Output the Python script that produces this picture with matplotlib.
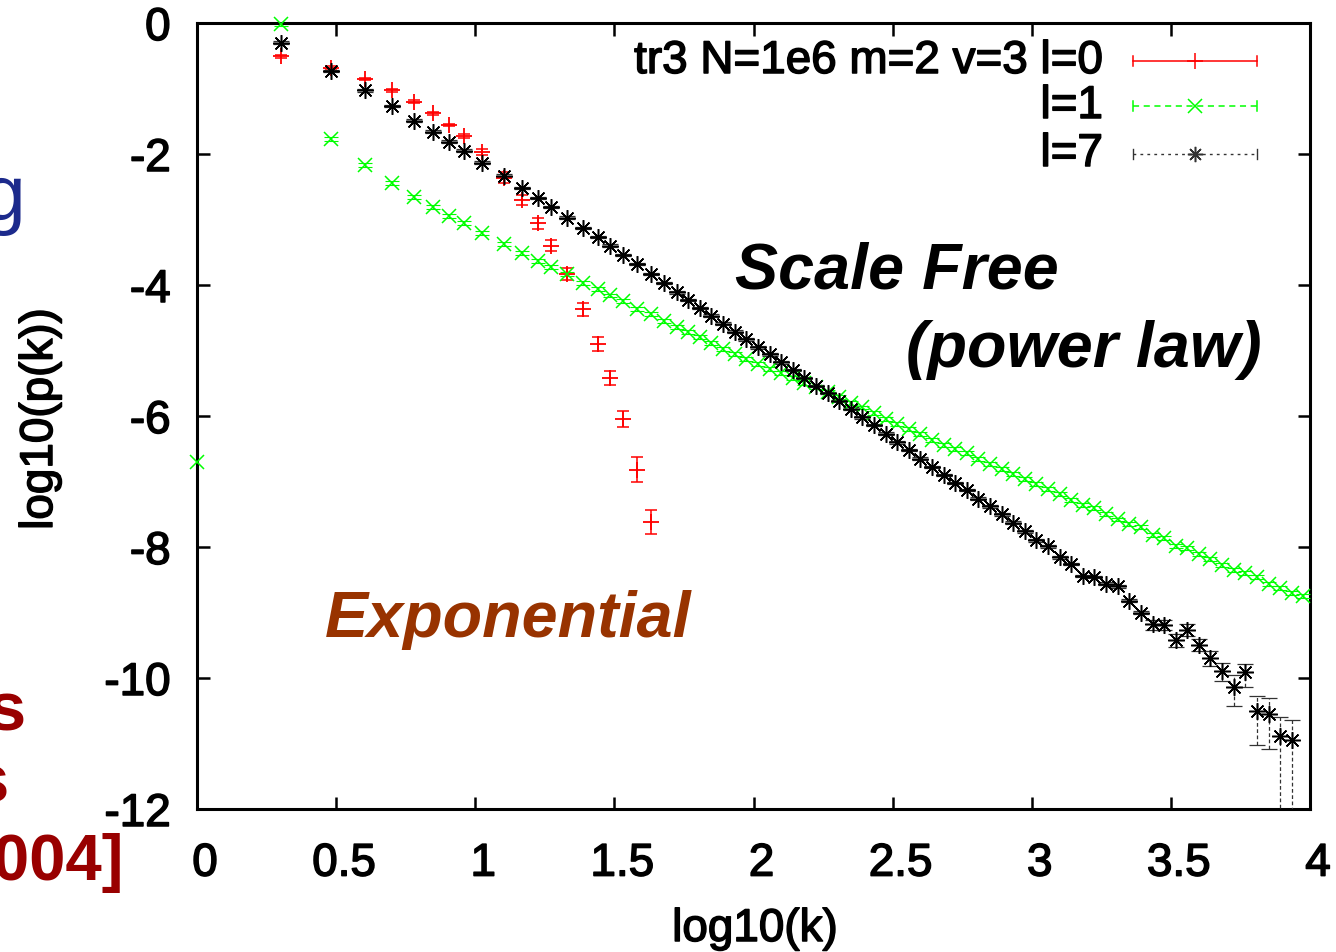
import matplotlib
matplotlib.use("Agg")
import matplotlib.pyplot as plt
import matplotlib.transforms as mtransforms
import matplotlib.patheffects as pe

plt.rcParams['font.family'] = ['Liberation Sans', 'DejaVu Sans']
plt.rcParams['axes.unicode_minus'] = False

# ---------------- data ----------------
# l=0 (red, exponential)
red_x = [0.301, 0.480, 0.604, 0.702, 0.781, 0.849, 0.906, 0.958, 1.026, 1.104,
         1.167, 1.224, 1.274, 1.328, 1.386, 1.440, 1.485, 1.531, 1.581, 1.630]
red_y = [-0.51, -0.68, -0.855, -1.03, -1.20, -1.38, -1.56, -1.72, -1.97, -2.36,
         -2.70, -3.06, -3.40, -3.83, -4.37, -4.90, -5.42, -6.05, -6.82, -7.62]
red_err = [0.02, 0.02, 0.02, 0.02, 0.02, 0.02, 0.02, 0.03, 0.05, 0.08,
           0.08, 0.08, 0.08, 0.09, 0.10, 0.10, 0.11, 0.12, 0.19, 0.18]

# shared log-bin positions of the tail
tail_x = [1.724, 1.766, 1.807, 1.849, 1.891, 1.933, 1.974, 2.016, 2.058, 2.099,
          2.141, 2.183, 2.224, 2.266, 2.308, 2.350, 2.391, 2.433, 2.475, 2.516,
          2.558, 2.600, 2.641, 2.683, 2.725, 2.767, 2.808, 2.850, 2.892, 2.933,
          2.975, 3.017, 3.058, 3.100, 3.142, 3.184, 3.225, 3.267, 3.309, 3.350,
          3.392, 3.434, 3.475, 3.517, 3.559, 3.601, 3.642, 3.684, 3.726, 3.767,
          3.809, 3.851, 3.892, 3.934, 3.976]
head_x = [0.301, 0.480, 0.604, 0.702, 0.781, 0.849, 0.906, 0.958, 1.026, 1.104,
          1.167, 1.224, 1.274, 1.328, 1.386, 1.440, 1.485, 1.531, 1.581, 1.630,
          1.680]

# l=1 (green)
green_x = [0.0] + head_x + tail_x
green_y = [-6.70,
           -0.02, -1.77, -2.17, -2.44, -2.65, -2.81, -2.94, -3.06, -3.21, -3.37,
           -3.51, -3.63, -3.73, -3.83, -3.97, -4.06, -4.16, -4.25, -4.36, -4.44,
           -4.55,
           -4.64, -4.72, -4.80, -4.89, -4.97, -5.05, -5.13, -5.21, -5.28, -5.35,
           -5.42, -5.49, -5.56, -5.63, -5.71, -5.80, -5.87, -5.95, -6.04, -6.12,
           -6.20, -6.28, -6.36, -6.44, -6.51, -6.57, -6.65, -6.73, -6.81, -6.88,
           -6.96, -7.04, -7.11, -7.19, -7.28, -7.36, -7.41, -7.50, -7.58, -7.65,
           -7.69, -7.81, -7.86, -7.98, -8.02, -8.10, -8.18, -8.27, -8.35, -8.40,
           -8.46, -8.56, -8.63, -8.70, -8.75]

# l=7 (black)
black_x = head_x + tail_x[:-1]
black_y = [-0.30, -0.73, -1.03, -1.27, -1.49, -1.66, -1.81, -1.95, -2.13, -2.33,
           -2.52, -2.67, -2.81, -2.97, -3.13, -3.27, -3.40, -3.54, -3.68, -3.83,
           -3.97,
           -4.11, -4.23, -4.35, -4.47, -4.59, -4.71, -4.83, -4.95, -5.06, -5.18,
           -5.30, -5.42, -5.54, -5.65, -5.77, -5.89, -6.02, -6.14, -6.27, -6.40,
           -6.52, -6.65, -6.78, -6.90, -7.02, -7.13, -7.26, -7.38, -7.50, -7.63,
           -7.76, -7.90, -7.99, -8.16, -8.26, -8.44, -8.46, -8.56, -8.60, -8.82,
           -9.00, -9.18, -9.19, -9.42, -9.26, -9.49, -9.69, -9.89, -10.13, -9.91,
           -10.51, -10.55, -10.89, -10.94]
black_err_lo = [0.02] * 62 + [0.08, 0.08, 0.10, 0.10, 0.10, 0.12, 0.15, 0.29, 0.23,
                              0.52, 0.53, 3.0, 3.0]
black_err_hi = [0.02] * 62 + [0.07, 0.07, 0.09, 0.09, 0.09, 0.10, 0.12, 0.17, 0.12,
                              0.23, 0.25, 0.30, 0.30]

x_ticks = [0, 0.5, 1, 1.5, 2, 2.5, 3, 3.5, 4]
x_tick_labels = ['0', '0.5', '1', '1.5', '2', '2.5', '3', '3.5', '4']
y_ticks = [0, -2, -4, -6, -8, -10, -12]
y_tick_labels = ['0', '-2', '-4', '-6', '-8', '-10', '-12']
legend_labels = ['tr3 N=1e6 m=2 v=3 l=0', 'l=1', 'l=7']

# ---------------- figure ----------------
W, H = 1336, 953
fig = plt.figure(figsize=(W / 100, H / 100), dpi=100)
L, R, T, B = 197, 1310, 24, 810
ax = fig.add_axes([L / W, 1 - B / H, (R - L) / W, (B - T) / H])
ax.set_xlim(0, 4)
ax.set_ylim(-12, 0)

FS = 33
heavy = [pe.withStroke(linewidth=1.1, foreground='black')]

# red
ax.errorbar(red_x, red_y, yerr=red_err, fmt='none', ecolor='#ff0000',
            elinewidth=1.1, capsize=4, capthick=1.1, zorder=3)
ax.plot(red_x, red_y, ls='none', marker='+', ms=11, mew=1.3, color='#ff0000', zorder=4)

# green
ax.errorbar(green_x[1:], green_y[1:], yerr=0.03, fmt='none', ecolor='#00ff00',
            elinewidth=0.8, capsize=5, capthick=0.8, zorder=3)
ax.plot(green_x, green_y, ls='none', marker='x', ms=10, mew=1.1, color='#00ff00',
        zorder=4, clip_on=False)

# black
ax.errorbar(black_x, black_y, yerr=[black_err_lo, black_err_hi], fmt='none',
            ecolor='#333333', elinewidth=0.9, capsize=6, capthick=0.9, zorder=3)
ax.collections[-1].set_linestyle((0, (3, 2)))
ax.plot(black_x, black_y, ls='none', marker=(8, 2, 0), ms=12, mew=1.1, color='black',
        zorder=5)

# ticks
ax.set_xticks(x_ticks)
ax.set_xticklabels(x_tick_labels)
ax.set_yticks(y_ticks)
ax.set_yticklabels(y_tick_labels)
ax.tick_params(direction='in', length=9, width=1.8, top=True, right=True,
               labelsize=FS, colors='black')
ax.tick_params(axis='x', pad=23.5)
ax.tick_params(axis='y', pad=19)
off = mtransforms.ScaledTranslation(8 / 100, 0, fig.dpi_scale_trans)
for lab in ax.get_xticklabels():
    lab.set_transform(lab.get_transform() + off)
for lab in ax.get_xticklabels() + ax.get_yticklabels():
    lab.set_path_effects(heavy)
for s in ax.spines.values():
    s.set_linewidth(2.2)

fig.text(755 / W, 1 - 930 / H, 'log10(k)', ha='center', va='center', fontsize=FS,
         path_effects=heavy)
fig.text(40 / W, 1 - 420 / H, 'log10(p(k))', ha='center', va='center', fontsize=FS,
         rotation=90, path_effects=heavy)

# legend (manual, gnuplot style)
leg_styles = [dict(color='#ff0000', ls='-', marker='+', ms=11, lw=1.1),
              dict(color='#00ff00', ls=(0, (4, 3)), marker='x', ms=10, lw=1.1),
              dict(color='#333333', ls=(0, (2, 3)), marker=(8, 2, 0), ms=11, lw=1.0)]
leg_y = [62, 107, 155]
for lab, st, py in zip(legend_labels, leg_styles, leg_y):
    yy = 1 - py / H
    fig.text(1103 / W, yy, lab, ha='right', va='center', fontsize=FS,
             path_effects=heavy)
    fig.add_artist(plt.Line2D([1133 / W, 1257 / W], [yy, yy], color=st['color'],
                              ls=st['ls'], lw=st['lw']))
    for xe in (1133, 1257):
        fig.add_artist(plt.Line2D([xe / W, xe / W], [yy - 5 / H, yy + 5 / H],
                                  color=st['color'], lw=st['lw']))
    fig.add_artist(plt.Line2D([1195 / W], [yy], color=st['color'], ls='none',
                              marker=st['marker'], ms=st['ms'], mew=1.1))

# annotations
fig.text(735 / W, 1 - 272 / H, 'Scale Free', ha='left', va='center', fontsize=46.5,
         fontweight='bold', style='italic')
fig.text(1262 / W, 1 - 350 / H, '(power law)', ha='right', va='center', fontsize=46.5,
         fontweight='bold', style='italic')
fig.text(325 / W, 1 - 620 / H, 'Exponential', ha='left', va='center', fontsize=46.5,
         fontweight='bold', style='italic', color='#983300')

# cropped slide text on the left edge
fig.text(5 / W, 1 - 88 / H, 'of:', ha='right', va='center', fontsize=40, color='#1c2a8c')
fig.text(26 / W, 1 - 200 / H, 'ing', ha='right', va='center', fontsize=56, color='#1c2a8c')
fig.text(26 / W, 1 - 712 / H, 'ks', ha='right', va='center', fontsize=50,
         fontweight='bold', color='#990000')
fig.text(10 / W, 1 - 785 / H, 'es', ha='right', va='center', fontsize=50,
         fontweight='bold', color='#990000')
fig.text(124 / W, 1 - 863 / H, '[2004]', ha='right', va='center', fontsize=47,
         fontweight='bold', color='#990000')

fig.savefig('out.png', dpi=100)
